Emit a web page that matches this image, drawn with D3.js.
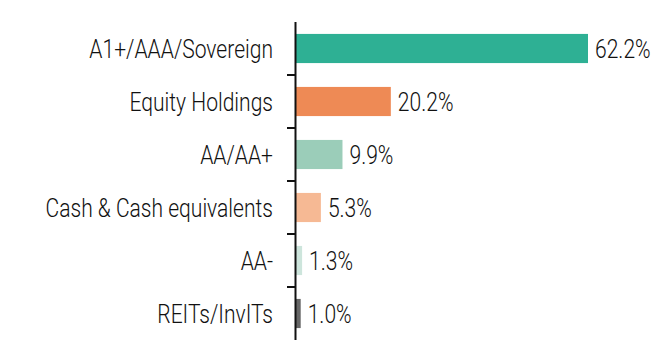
<!DOCTYPE html>
<html>
<head>
<meta charset="utf-8">
<script src="https://cdn.jsdelivr.net/npm/d3@7"></script>
<style>
  body { margin: 0; background: #fff; }
  text { font-family: Roboto, "DejaVu Sans Condensed", sans-serif; font-weight: 300; }
</style>
</head>
<body>
<div id="chart"></div>
<script>
var categories = ["A1+/AAA/Sovereign", "Equity Holdings", "AA/AA+", "Cash & Cash equivalents", "AA-", "REITs/InvITs"];
var values = [62.2, 20.2, 9.9, 5.3, 1.3, 1.0];
var colors = ["#2eb094", "#ee8a55", "#9bcdb9", "#f6b994", "#cde5dc", "#666666"];

var width = 663, height = 353;
var margin = {top: 22, right: 75, bottom: 12, left: 296};
var squeeze = 0.81; // the original face is a condensed one

var svg = d3.select("#chart")
    .append("svg")
    .attr("width", width)
    .attr("height", height);

var x = d3.scaleLinear()
    .domain([0, d3.max(values)])
    .range([margin.left, 588]);

var y = d3.scaleBand()
    .domain(categories)
    .range([margin.top, height - margin.bottom - 1])
    .paddingInner(0.45)
    .paddingOuter(0.225);

// bars
svg.selectAll("rect.bar")
    .data(categories)
    .enter()
    .append("rect")
      .attr("class", "bar")
      .attr("x", x(0))
      .attr("y", function(d){ return y(d); })
      .attr("width", function(d, i){ return x(values[i]) - x(0); })
      .attr("height", y.bandwidth())
      .style("fill", function(d, i){ return colors[i]; });

// value labels
svg.selectAll("g.val")
    .data(categories)
    .enter()
    .append("g")
      .attr("class", "val")
      .attr("transform", function(d, i){
          return "translate(" + (x(values[i]) + 7) + "," + (y(d) + y.bandwidth() / 2) + ") scale(" + squeeze + ",1)";
      })
    .append("text")
      .attr("dy", "0.36em")
      .attr("font-size", "26px")
      .attr("fill", "#111")
      .text(function(d, i){ return values[i].toFixed(1) + "%"; });

// category labels
svg.selectAll("g.cat")
    .data(categories)
    .enter()
    .append("g")
      .attr("class", "cat")
      .attr("transform", function(d){
          return "translate(" + (margin.left - 23) + "," + (y(d) + y.bandwidth() / 2) + ") scale(" + squeeze + ",1)";
      })
    .append("text")
      .attr("dy", "0.36em")
      .attr("text-anchor", "end")
      .attr("font-size", "26px")
      .attr("fill", "#111")
      .text(function(d){ return d; });

// axis line
var step = y.step();
svg.append("line")
    .attr("x1", x(0) - 0.5).attr("x2", x(0) - 0.5)
    .attr("y1", y.range()[0]).attr("y2", y.range()[1])
    .attr("stroke", "#111")
    .attr("stroke-width", 2);

// ticks between bands
svg.selectAll("line.tick")
    .data(categories.slice(1))
    .enter()
    .append("line")
      .attr("class", "tick")
      .attr("x1", x(0) - 9).attr("x2", x(0))
      .attr("y1", function(d){ return y(d) - y.paddingInner() * step / 2; })
      .attr("y2", function(d){ return y(d) - y.paddingInner() * step / 2; })
      .attr("stroke", "#111")
      .attr("stroke-width", 2);
</script>
</body>
</html>
